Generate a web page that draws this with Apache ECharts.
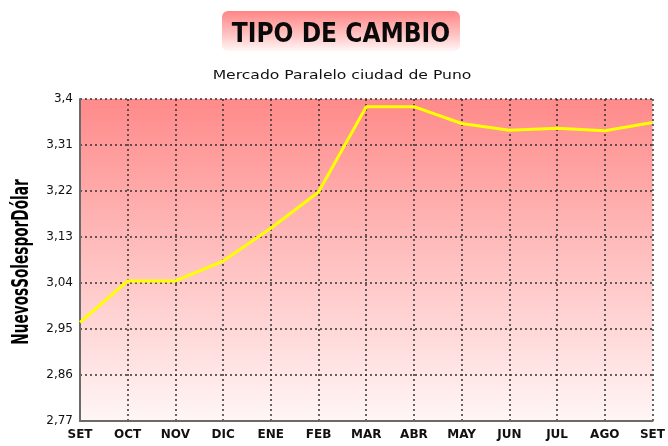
<!DOCTYPE html>
<html>
<head>
<meta charset="utf-8">
<script src="https://cdn.jsdelivr.net/npm/echarts@6/dist/echarts.min.js"></script>
<style>
  html, body { margin: 0; padding: 0; background: #fff; }
  #chart { width: 668px; height: 446px; }
</style>
</head>
<body>
<div id="chart"></div>
<script>
// meses (SET a SET)
var months = ['SET', 'OCT', 'NOV', 'DIC', 'ENE', 'FEB', 'MAR', 'ABR', 'MAY', 'JUN', 'JUL', 'AGO', 'SET'];
// tipo de cambio
var rates = [2.963, 3.044, 3.044, 3.083, 3.147, 3.218, 3.385, 3.385, 3.352, 3.339, 3.343, 3.338, 3.354];
// marcas del eje y
var yTicks = [2.77, 2.86, 2.95, 3.04, 3.13, 3.22, 3.31, 3.4];

var font = "'DejaVu Sans', sans-serif";

function setLineChart(eleName) {
  var dom = document.querySelector(eleName);
  var myChart = echarts.init(dom);
  var option = {
    backgroundColor: '#ffffff',
    animation: false,
    graphic: [{
      type: 'rect',
      shape: { x: 222, y: 11, width: 238, height: 40, r: 6 },
      style: {
        fill: new echarts.graphic.LinearGradient(0, 0, 0, 1, [
          { offset: 0, color: '#ff8585' },
          { offset: 0.6, color: '#ffc4c4' },
          { offset: 1, color: '#fff6f6' }
        ])
      },
      z: 0
    }, {
      // titulo condensado
      type: 'text',
      x: 341,
      y: 35,
      scaleX: 0.9,
      style: {
        text: 'TIPO DE CAMBIO',
        font: '600 26px ' + font,
        fill: '#0a0a0a',
        align: 'center',
        verticalAlign: 'middle'
      },
      z: 2
    }, {
      type: 'text',
      x: 342,
      y: 76,
      scaleX: 1.2,
      style: {
        text: 'Mercado Paralelo ciudad de Puno',
        font: '13px ' + font,
        fill: '#111',
        align: 'center',
        verticalAlign: 'middle'
      },
      z: 2
    }, {
      // nombre del eje y, girado y apretado
      type: 'text',
      x: 22,
      y: 262,
      rotation: Math.PI / 2,
      scaleX: 0.65,
      scaleY: 1.1,
      style: {
        text: 'NuevosSolesporDólar',
        font: 'bold 21px ' + font,
        fill: '#000',
        align: 'center',
        verticalAlign: 'middle'
      },
      z: 2
    }],
    grid: {
      left: 80,
      right: 11,
      top: 99,
      bottom: 25,
      show: true,
      borderWidth: 0,
      backgroundColor: new echarts.graphic.LinearGradient(0, 0, 0, 1, [
        { offset: 0, color: '#ff8a8a' },
        { offset: 1, color: '#fff6f6' }
      ])
    },
    xAxis: {
      type: 'category',
      data: months,
      boundaryGap: false,
      axisLine: { lineStyle: { color: '#6a6a6a', width: 2 } },
      axisTick: { show: false },
      axisLabel: {
        color: '#111',
        fontFamily: font,
        fontWeight: 'bold',
        fontSize: 12,
        margin: 8
      },
      splitLine: {
        show: true,
        lineStyle: { color: '#333', type: [2, 3], width: 1.5 }
      }
    },
    yAxis: {
      type: 'value',
      min: 2.77,
      max: 3.4,
      axisLine: { show: true, lineStyle: { color: '#6a6a6a', width: 2 } },
      axisTick: { show: false, customValues: yTicks },
      axisLabel: {
        customValues: yTicks,
        color: '#111',
        fontFamily: font,
        fontSize: 12,
        margin: 7,
        formatter: function (v) {
          return String(+v.toFixed(2)).replace('.', ',');
        }
      },
      splitLine: {
        show: true,
        lineStyle: { color: '#333', type: [2, 3], width: 1.5 }
      }
    },
    series: [{
      type: 'line',
      data: rates,
      showSymbol: false,
      lineStyle: { color: '#ffff00', width: 3 },
      z: 5
    }]
  };
  myChart.setOption(option, true);
}

setLineChart('#chart');
</script>
</body>
</html>
